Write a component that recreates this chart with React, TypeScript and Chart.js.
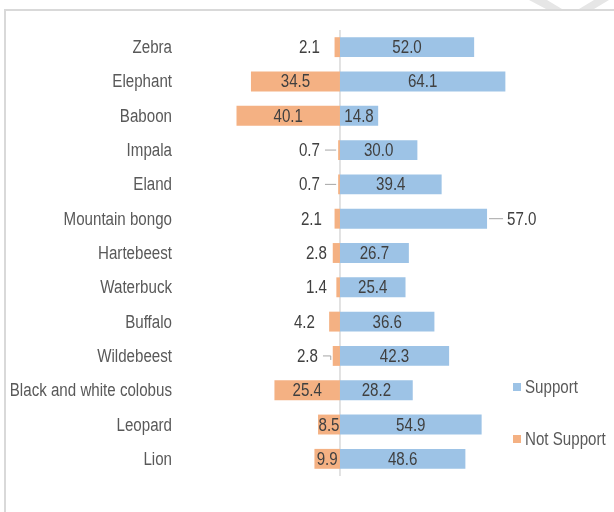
import React, { useEffect, useRef } from "react";
import { Chart, registerables } from "chart.js";

Chart.register(...registerables);

const categories = [
  "Zebra",
  "Elephant",
  "Baboon",
  "Impala",
  "Eland",
  "Mountain bongo",
  "Hartebeest",
  "Waterbuck",
  "Buffalo",
  "Wildebeest",
  "Black and white colobus",
  "Leopard",
  "Lion",
];
const supportValues = [52.0, 64.1, 14.8, 30.0, 39.4, 57.0, 26.7, 25.4, 36.6, 42.3, 28.2, 54.9, 48.6];
const notSupportValues = [2.1, 34.5, 40.1, 0.7, 0.7, 2.1, 2.8, 1.4, 4.2, 2.8, 25.4, 8.5, 9.9];
const seriesNames = ["Support", "Not Support"];

const BLUE = "#9DC3E6";
const ORANGE = "#F4B183";
const TEXT = "#404040";
const LABEL = "#595959";
const FONT = '"Liberation Sans", Arial, sans-serif';
const SQUEEZE = 0.84;

// label placement for small values (px offsets from the zero line)
const outsideNotSupport: Record<string, { gap: number; leader?: boolean; bend?: boolean }> = {
  Zebra: { gap: 20 },
  Impala: { gap: 20, leader: true },
  Eland: { gap: 20, leader: true },
  "Mountain bongo": { gap: 18 },
  Hartebeest: { gap: 13 },
  Waterbuck: { gap: 13 },
  Buffalo: { gap: 25 },
  Wildebeest: { gap: 22, leader: true, bend: true },
};
const outsideSupport: Record<string, { gap: number; leader?: boolean }> = {
  "Mountain bongo": { gap: 20, leader: true },
};

function narrowText(ctx: CanvasRenderingContext2D, txt: string, x: number, y: number, align: CanvasTextAlign) {
  ctx.save();
  ctx.translate(x, y);
  ctx.scale(SQUEEZE, 1);
  ctx.textAlign = align;
  ctx.textBaseline = "middle";
  ctx.fillText(txt, 0, 0);
  ctx.restore();
}

const labelsPlugin = {
  id: "customLabels",
  beforeDatasetsDraw(chart: any) {
    const { ctx, chartArea, scales } = chart;
    const x0 = scales.x.getPixelForValue(0);
    ctx.save();
    ctx.strokeStyle = "#d9d9d9";
    ctx.lineWidth = 1.5;
    ctx.beginPath();
    ctx.moveTo(x0, chartArea.top);
    ctx.lineTo(x0, chartArea.bottom);
    ctx.stroke();
    ctx.restore();
  },
  afterDatasetsDraw(chart: any) {
    const { ctx, scales } = chart;
    const x0 = scales.x.getPixelForValue(0);
    ctx.save();
    ctx.font = `18px ${FONT}`;
    // category labels
    ctx.fillStyle = LABEL;
    categories.forEach((c, i) => {
      const y = scales.y.getPixelForValue(i);
      narrowText(ctx, c, scales.y.right - 8, y + 1, "right");
    });
    ctx.fillStyle = TEXT;
    ctx.strokeStyle = "#a6a6a6";
    ctx.lineWidth = 1;
    // Support
    const m0 = chart.getDatasetMeta(0);
    m0.data.forEach((bar: any, i: number) => {
      const { x, y } = bar.getProps(["x", "y"], true);
      const txt = supportValues[i].toFixed(1);
      const o = outsideSupport[categories[i]];
      if (o) {
        if (o.leader) {
          ctx.beginPath();
          ctx.moveTo(x + 2, y);
          ctx.lineTo(x + o.gap - 4, y);
          ctx.stroke();
        }
        narrowText(ctx, txt, x + o.gap, y + 1, "left");
      } else {
        narrowText(ctx, txt, (x + x0) / 2, y + 1, "center");
      }
    });
    // Not support
    const m1 = chart.getDatasetMeta(1);
    m1.data.forEach((bar: any, i: number) => {
      const { x, y } = bar.getProps(["x", "y"], true);
      const txt = notSupportValues[i].toFixed(1);
      const o = outsideNotSupport[categories[i]];
      if (o) {
        const end = x0 - o.gap;
        if (o.leader) {
          ctx.beginPath();
          ctx.moveTo(end + 5, y);
          ctx.lineTo(x - 2, y);
          if (o.bend) ctx.lineTo(x - 2, y + 4);
          ctx.stroke();
        }
        narrowText(ctx, txt, end, y + 1, "right");
      } else {
        narrowText(ctx, txt, (x + x0) / 2, y + 1, "center");
      }
    });
    ctx.restore();
  },
  afterDraw(chart: any) {
    const { ctx } = chart;
    ctx.save();
    // frame
    ctx.strokeStyle = "#d9d9d9";
    ctx.lineWidth = 2;
    ctx.beginPath();
    ctx.moveTo(5, 520);
    ctx.lineTo(5, 10);
    ctx.lineTo(620, 10);
    ctx.stroke();
    // watermark fragment
    ctx.fillStyle = "#e6e6e6";
    ctx.beginPath();
    ctx.moveTo(529, 0);
    ctx.lineTo(547, 0);
    ctx.lineTo(562, 9);
    ctx.lineTo(546, 9);
    ctx.closePath();
    ctx.moveTo(579, 9);
    ctx.lineTo(594, 9);
    ctx.lineTo(609, 0);
    ctx.lineTo(594, 0);
    ctx.closePath();
    ctx.fill();
    // legend
    ctx.font = `18px ${FONT}`;
    const items = [
      { name: seriesNames[0], color: BLUE, y: 387 },
      { name: seriesNames[1], color: ORANGE, y: 439 },
    ];
    items.forEach((it) => {
      ctx.fillStyle = it.color;
      ctx.fillRect(513, it.y - 4, 8, 8);
      ctx.fillStyle = LABEL;
      narrowText(ctx, it.name, 525, it.y + 1, "left");
    });
    ctx.restore();
  },
};

export default function App() {
  const ref = useRef<HTMLCanvasElement>(null);
  useEffect(() => {
    if (!ref.current) return;
    const chart = new Chart(ref.current, {
      type: "bar",
      data: {
        labels: categories,
        datasets: [
          {
            label: seriesNames[0],
            data: supportValues,
            backgroundColor: BLUE,
            borderWidth: 0,
          },
          {
            label: seriesNames[1],
            data: notSupportValues.map((v) => -v),
            backgroundColor: ORANGE,
            borderWidth: 0,
          },
        ],
      },
      options: {
        indexAxis: "y",
        responsive: false,
        animation: false,
        maintainAspectRatio: false,
        datasets: { bar: { categoryPercentage: 0.58, barPercentage: 1 } },
        layout: { padding: { top: 30, bottom: 36, right: 16, left: 0 } },
        plugins: {
          legend: { display: false },
          tooltip: { enabled: false },
        },
        scales: {
          x: {
            stacked: true,
            min: -62,
            max: 100,
            display: false,
            grid: { display: false },
          },
          y: {
            stacked: true,
            grid: { display: false, drawTicks: false },
            border: { display: false },
            ticks: { display: false },
            afterFit: (scale: any) => {
              scale.width = 180;
            },
          },
        },
      },
      plugins: [labelsPlugin],
    });
    return () => chart.destroy();
  }, []);
  return (
    <div style={{ position: "fixed", left: 0, top: 0, width: 614, height: 512, background: "#fff" }}>
      <canvas ref={ref} width={614} height={512} style={{ display: "block" }} />
    </div>
  );
}
